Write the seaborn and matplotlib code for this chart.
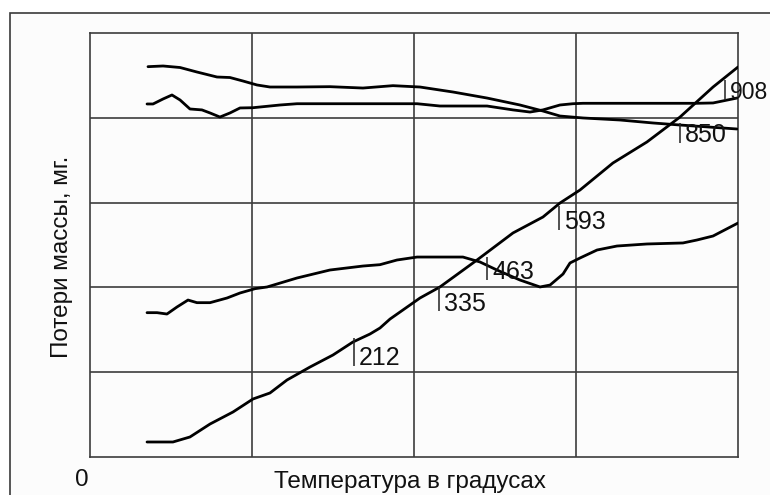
import matplotlib
matplotlib.use("Agg")
import matplotlib.pyplot as plt
import matplotlib.patches as mpatches
import seaborn as sns
import pandas as pd

# ---- data (x: grid columns 0..4, y: grid rows 0..5) ----
curve_a_x = [0.358, 0.451, 0.556, 0.660, 0.784, 0.864, 0.944, 1.031, 1.111, 1.278, 1.481,
             1.685, 1.870, 2.037, 2.241, 2.451, 2.654, 2.796, 2.901, 3.043, 3.272, 3.475,
             3.642, 3.994]
curve_a_y = [4.603, 4.611, 4.593, 4.540, 4.481, 4.475, 4.434, 4.387, 4.363, 4.363, 4.367,
             4.351, 4.379, 4.363, 4.304, 4.233, 4.151, 4.080, 4.021, 3.998, 3.974, 3.939,
             3.915, 3.868]

curve_b_x = [0.352, 0.389, 0.451, 0.506, 0.556, 0.617, 0.691, 0.741, 0.802, 0.864, 0.926,
             1.006, 1.173, 1.278, 1.481, 1.685, 2.019, 2.160, 2.451, 2.611, 2.716, 2.796,
             2.901, 2.981, 3.043, 3.475, 3.747, 3.846, 3.994]
curve_b_y = [4.163, 4.163, 4.222, 4.269, 4.210, 4.104, 4.093, 4.057, 4.009, 4.057, 4.116,
             4.119, 4.151, 4.166, 4.166, 4.166, 4.166, 4.139, 4.139, 4.093, 4.068, 4.093,
             4.151, 4.166, 4.171, 4.171, 4.171, 4.175, 4.233]

curve_c_x = [0.352, 0.414, 0.475, 0.537, 0.605, 0.660, 0.741, 0.846, 0.926, 1.019, 1.093,
             1.278, 1.481, 1.685, 1.790, 1.895, 2.019, 2.160, 2.302, 2.407, 2.512, 2.654,
             2.778, 2.840, 2.920, 2.963, 3.025, 3.130, 3.253, 3.438, 3.660, 3.747, 3.846,
             4.000]
curve_c_y = [1.702, 1.702, 1.686, 1.769, 1.851, 1.820, 1.820, 1.875, 1.934, 1.985, 2.005,
             2.111, 2.205, 2.252, 2.268, 2.323, 2.358, 2.358, 2.358, 2.300, 2.205, 2.087,
             2.005, 2.028, 2.158, 2.288, 2.347, 2.441, 2.488, 2.512, 2.524, 2.559, 2.606,
             2.759]

curve_d_x = [0.352, 0.512, 0.617, 0.741, 0.883, 1.006, 1.111, 1.216, 1.358, 1.500, 1.623,
             1.728, 1.790, 1.852, 1.914, 2.037, 2.160, 2.389, 2.611, 2.796, 2.901, 3.025,
             3.228, 3.438, 3.642, 3.846, 4.000]
curve_d_y = [0.177, 0.177, 0.236, 0.389, 0.531, 0.684, 0.755, 0.908, 1.061, 1.203, 1.356,
             1.450, 1.521, 1.627, 1.710, 1.875, 2.005, 2.323, 2.642, 2.830, 2.995, 3.149,
             3.467, 3.715, 4.009, 4.363, 4.599]

label_temps = ["212", "335", "463", "593", "850", "908"]
label_x = [1.629, 2.154, 2.451, 2.895, 3.642, 3.920]
label_y_low = [1.073, 1.716, 2.087, 2.677, 3.703, 4.210]
label_y_high = [1.403, 2.005, 2.358, 2.960, 3.939, 4.446]
label_size = [18, 18, 18, 18, 18, 16.5]

x_label = "Температура в градусах"
y_label = "Потери массы, мг."
origin_label = "0"

# ---- figure ----
sns.set_theme(style="white")
plt.rcParams["font.family"] = ["Liberation Sans", "DejaVu Sans"]

W, H = 770, 495
fig = plt.figure(figsize=(W / 100, H / 100), dpi=100)
fig.patch.set_facecolor("white")

frame = mpatches.Rectangle((10 / W, -0.2), 2.0, 1.2 - 13 / H, transform=fig.transFigure,
                           facecolor="#fcfcfc", edgecolor="#3a3a3a", lw=1.2, zorder=-5)
fig.patches.append(frame)

ax = fig.add_axes([90 / W, (H - 457) / H, (738 - 90) / W, (457 - 33) / H])
ax.set_zorder(2)
ax.set_facecolor("#fcfcfc")

grid_col = "#3c3c3c"
for name, xs, ys in [("a", curve_a_x, curve_a_y), ("b", curve_b_x, curve_b_y),
                     ("c", curve_c_x, curve_c_y), ("d", curve_d_x, curve_d_y)]:
    df = pd.DataFrame({"x": xs, "y": ys})
    sns.lineplot(data=df, x="x", y="y", ax=ax, color="black", lw=2.0,
                 sort=False, estimator=None, zorder=3)

ax.set_xlim(0, 4)
ax.set_ylim(0, 5)
ax.set_xticks([1, 2, 3])
ax.set_yticks([1, 2, 3, 4])
ax.grid(True, color=grid_col, lw=1.2)
ax.tick_params(left=False, bottom=False, labelleft=False, labelbottom=False)
for sp in ax.spines.values():
    sp.set_visible(True)
    sp.set_color(grid_col)
    sp.set_linewidth(1.2)
ax.set_xlabel("")
ax.set_ylabel("")

for t, lx, y0, y1, fs in zip(label_temps, label_x, label_y_low, label_y_high, label_size):
    ax.vlines(lx, y0, y1, color="#222222", lw=1.1, zorder=4)
    ax.text(lx + 0.03, y0 + 0.01, t, fontsize=fs, color="#111111",
            ha="left", va="baseline", zorder=5, clip_on=False)

fig.text(410 / W, 1 - 488 / H, x_label, fontsize=17.5, ha="center", va="baseline",
         color="#111111")
fig.text(82 / W, 1 - 486 / H, origin_label, fontsize=17.5, ha="center", va="baseline",
         color="#111111")
fig.text(68 / W, 1 - 257 / H, y_label, fontsize=17.5, ha="center", va="baseline",
         rotation=90, rotation_mode="anchor", color="#111111")

fig.savefig("out.png", dpi=100, facecolor=fig.get_facecolor())
